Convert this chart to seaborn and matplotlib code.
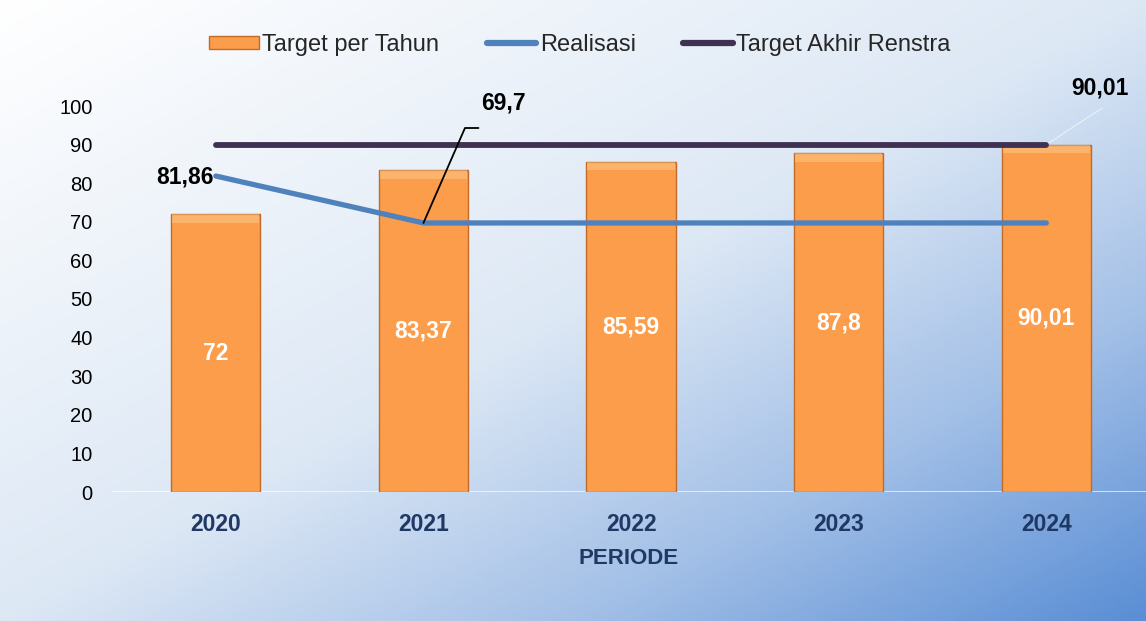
import numpy as np
import matplotlib
matplotlib.use("Agg")
import matplotlib.pyplot as plt
from matplotlib.colors import LinearSegmentedColormap
from matplotlib.patches import Patch
from matplotlib.lines import Line2D
import seaborn as sns

# data
periode = ["2020", "2021", "2022", "2023", "2024"]
target_per_tahun = [72, 83.37, 85.59, 87.8, 90.01]
target_labels = ["72", "83,37", "85,59", "87,8", "90,01"]
realisasi = [81.86, 69.7, 69.7, 69.7, 69.7]
target_akhir = [90.01, 90.01, 90.01, 90.01, 90.01]

sns.set_theme(style="white")
plt.rcParams["font.family"] = ["Liberation Sans", "DejaVu Sans"]

BAR = "#fb9d4b"
BLUE = "#4f81bd"
PURPLE = "#403152"
NAVY = "#1f3864"

fig = plt.figure(figsize=(11.46, 6.21), dpi=100)

# latar gradien: putih kiri atas -> biru kanan bawah
bg = fig.add_axes([0, 0, 1, 1], zorder=-10)
gx, gy = np.meshgrid(np.linspace(0, 1, 400), np.linspace(0, 1, 220))
t = (gx + gy) / 2
cmap = LinearSegmentedColormap.from_list(
    "bg", [(0, "#ffffff"), (0.5, "#dde8f5"), (0.75, "#a3c0e7"), (1, "#5a8ed5")])
bg.imshow(t, cmap=cmap, aspect="auto", extent=[0, 1, 0, 1], origin="upper")
bg.axis("off")

ax = fig.add_axes([112 / 1146, 1 - 492 / 621, 1034 / 1146, 386 / 621])
ax.set_facecolor("none")

idx = np.arange(len(periode))
sns.barplot(x=periode, y=target_per_tahun, color=BAR, width=0.43,
            edgecolor="#c26a28", linewidth=1.0, saturation=1, ax=ax, zorder=2)
# efek bevel tipis di atas batang
for i, v in enumerate(target_per_tahun):
    ax.bar(i, 2.2, bottom=v - 2.2, width=0.42, color="#ffd9a0", alpha=0.4,
           linewidth=0, zorder=3)

sns.lineplot(x=idx, y=target_akhir, color=PURPLE, linewidth=4.2, ax=ax,
             zorder=4, solid_capstyle="round")
sns.lineplot(x=idx, y=realisasi, color=BLUE, linewidth=3.8, ax=ax,
             zorder=5, solid_capstyle="round")

ax.axhline(0, color="white", lw=1.2, alpha=0.8, zorder=1)

for i, v in enumerate(target_per_tahun):
    ax.text(i, v / 2, target_labels[i], ha="center", va="center",
            color="white", fontsize=16.5, fontweight="bold", zorder=6)

ax.text(-0.01, 81.5, "81,86", ha="right", va="center", fontsize=16.5,
        fontweight="bold", color="black", zorder=6)
ax.plot([1, 1.20, 1.265], [69.7, 94.3, 94.3], color="black", lw=1.3,
        clip_on=False, zorder=6)
ax.text(1.28, 100.8, "69,7", ha="left", va="center", fontsize=16.5,
        fontweight="bold", color="black", clip_on=False, zorder=6)
ax.plot([4.0, 4.27], [90.01, 99.5], color="#e6edf6", lw=1.0, clip_on=False,
        zorder=3)
ax.text(4.26, 104.7, "90,01", ha="center", va="center", fontsize=16.5,
        fontweight="bold", color="black", clip_on=False, zorder=6)

ax.set_xlim(-0.5, 4.48)
ax.set_ylim(0, 100)
ax.set_yticks(range(0, 101, 10))
ax.tick_params(axis="y", length=0, pad=14, labelsize=14.5, labelcolor="black")
ax.tick_params(axis="x", length=0, pad=15, labelsize=16.5, labelcolor=NAVY)
for lab in ax.get_xticklabels():
    lab.set_fontweight("bold")
ax.set_xlabel("PERIODE", fontsize=16, fontweight="bold", color=NAVY, labelpad=8.5)
ax.set_ylabel("")
sns.despine(ax=ax, left=True, bottom=True)
ax.grid(False)

handles = [
    Patch(facecolor=BAR, edgecolor="#c26a28", label="Target per Tahun"),
    Line2D([0], [0], color=BLUE, lw=4.5, solid_capstyle="round", label="Realisasi"),
    Line2D([0], [0], color=PURPLE, lw=4.5, solid_capstyle="round",
           label="Target Akhir Renstra"),
]
fig.legend(handles=handles, loc="center", bbox_to_anchor=(0.506, 0.928), ncol=3,
           frameon=False, fontsize=17, handlelength=2.1, handleheight=0.5,
           handletextpad=0.15, columnspacing=2.0)

fig.savefig("out.png", dpi=100)
